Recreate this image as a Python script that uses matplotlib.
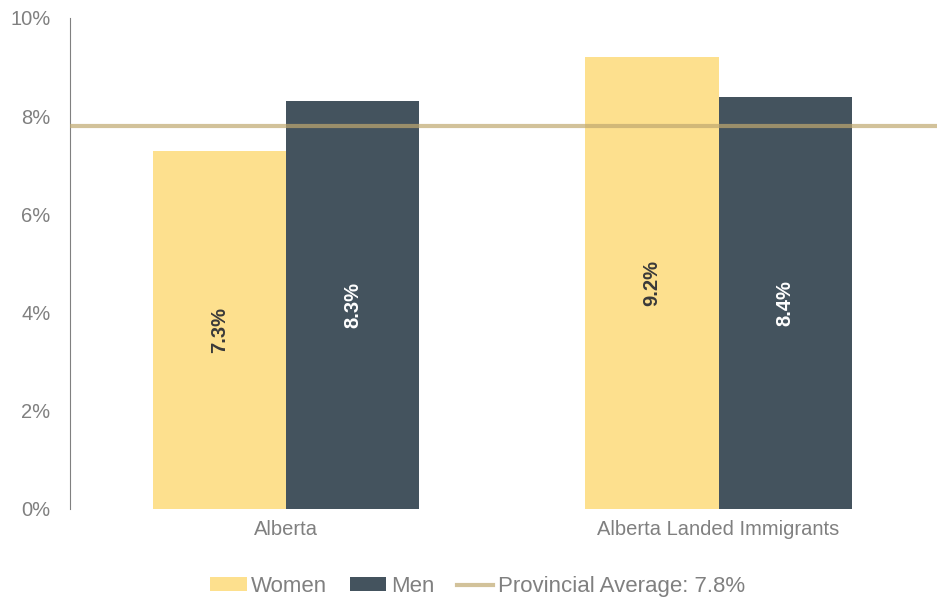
import matplotlib.pyplot as plt
import numpy as np
from matplotlib.ticker import FuncFormatter

plt.rcParams['font.family'] = ['Liberation Sans', 'DejaVu Sans']

categories = ['Alberta', 'Alberta Landed Immigrants']
women = [7.3, 9.2]
men = [8.3, 8.4]
provincial_avg = 7.8

women_color = '#FDE08E'
men_color = '#44535E'
avg_color = '#BFA870'
gray = '#808080'

fig = plt.figure(figsize=(9.43, 6), dpi=100)
ax = fig.add_axes([0.0742, 0.1517, 0.9194, 0.8183])

x = np.arange(len(categories))
w = 0.308
b1 = ax.bar(x - w / 2, women, w, color=women_color, label='Women')
b2 = ax.bar(x + w / 2, men, w, color=men_color, label='Men')
ln = ax.axhline(provincial_avg, color=avg_color, lw=3, alpha=0.7,
                label='Provincial Average: 7.8%', zorder=3)

for r, v in zip(b1, women):
    ax.text(r.get_x() + r.get_width() / 2, v / 2, f'{v:.1f}%', rotation=90,
            ha='center', va='center', fontsize=14.5, fontweight='bold', color='#3a3a3a')
for r, v in zip(b2, men):
    ax.text(r.get_x() + r.get_width() / 2, v / 2, f'{v:.1f}%', rotation=90,
            ha='center', va='center', fontsize=14.5, fontweight='bold', color='white')

ax.set_xlim(-0.5, 1.505)
ax.set_ylim(0, 10)
ax.set_yticks(range(0, 11, 2))
ax.yaxis.set_major_formatter(FuncFormatter(lambda v, p: f'{v:.0f}%'))
ax.set_xticks(x)
ax.set_xticklabels(categories)
ax.tick_params(axis='both', length=0, labelsize=14.5, labelcolor=gray, pad=8)
ax.tick_params(axis='y', pad=14)

for s in ['top', 'right', 'bottom']:
    ax.spines[s].set_visible(False)
ax.spines['left'].set_color(gray)

ax.legend(handles=[b1, b2, ln], loc='lower center', bbox_to_anchor=(0.47, -0.22),
          ncol=3, frameon=False, fontsize=16, labelcolor=gray, handlelength=1.66,
          handleheight=0.55, handletextpad=0.2, columnspacing=1.0)

fig.savefig('out.png', dpi=100)
